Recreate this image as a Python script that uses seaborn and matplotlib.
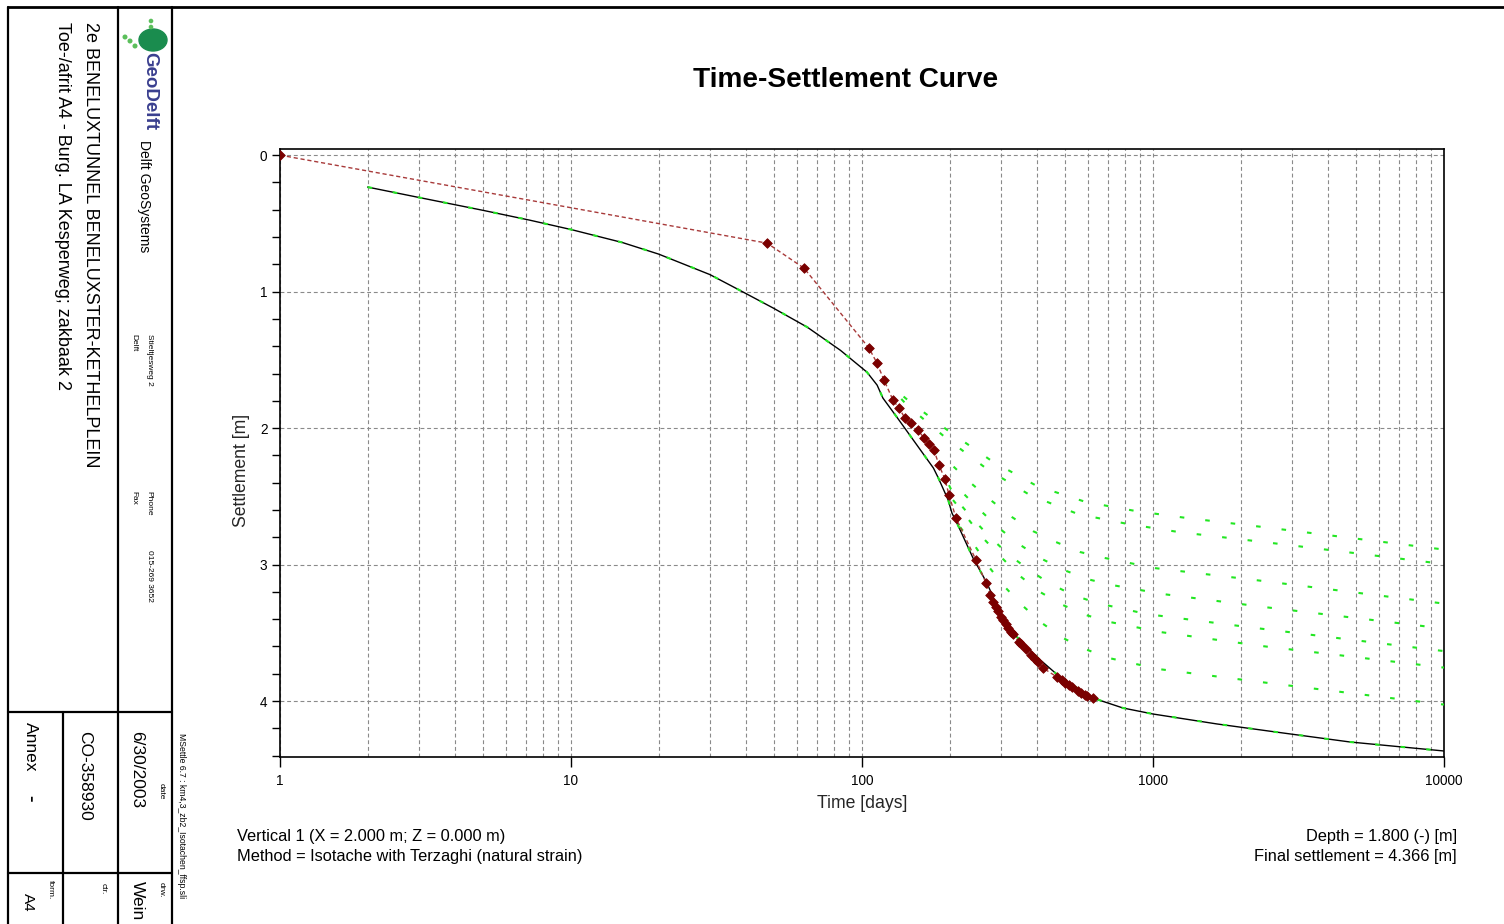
import matplotlib
matplotlib.use("Agg")
import matplotlib.pyplot as plt
import seaborn as sns
import pandas as pd
from matplotlib.ticker import LogLocator, MultipleLocator, FixedLocator, FixedFormatter, NullFormatter
from matplotlib.lines import Line2D
from matplotlib.patches import Ellipse

# ---------------- data ----------------
# measured settlements (red diamonds)
meas_t = [1, 47.2, 63.2, 105.7, 112.6, 119.0, 127.8, 134.0, 140.5, 147.3,
          155.7, 163.4, 169.9, 176.8, 183.9, 192.8, 199.1, 210.4, 246.5, 266.8,
          275.4, 281.9, 288.7, 293.4, 300.4, 305.2, 312.5, 317.5, 325.1, 330.3,
          346.4, 351.9, 366.1, 380.9, 393.1, 402.5, 418.8, 467.9, 486.8, 498.5,
          514.5, 526.8, 552.4, 565.7, 584.0, 593.3, 622.1]
meas_s = [0, 0.645, 0.828, 1.414, 1.524, 1.648, 1.795, 1.853, 1.927, 1.963,
          2.015, 2.073, 2.117, 2.161, 2.271, 2.374, 2.491, 2.659, 2.967, 3.136,
          3.223, 3.275, 3.311, 3.341, 3.385, 3.407, 3.436, 3.465, 3.495, 3.510,
          3.568, 3.582, 3.619, 3.663, 3.692, 3.714, 3.758, 3.824, 3.846, 3.868,
          3.883, 3.897, 3.927, 3.941, 3.956, 3.963, 3.978]

# calculated settlement (black curve)
calc_t = [2.0, 3.0, 5.0, 7.2, 10.0, 15.0, 20.0, 30.0, 38.0, 49.5, 64.8, 84.3, 104.0,
          112.7, 118.0, 131.8, 176.0, 183.0, 197.8, 203.8, 212.0, 240.7, 268.9, 298.0,
          340.9, 399.4, 479.0, 622.0, 788.6, 1000, 1660, 2797, 4753, 10000]
calc_s = [0.234, 0.31, 0.405, 0.476, 0.545, 0.64, 0.725, 0.875, 0.99, 1.12, 1.26,
          1.43, 1.59, 1.685, 1.78, 1.92, 2.293, 2.366, 2.527, 2.623, 2.696, 2.952,
          3.136, 3.355, 3.531, 3.678, 3.824, 3.978, 4.051, 4.095, 4.168, 4.234,
          4.300, 4.366]

# green branch curves
A_t = [119.0, 145.0, 200.6, 279.7, 399.4, 588.7, 874.2, 1309, 2388, 10000]
A_s = [1.648, 1.802, 2.029, 2.242, 2.425, 2.542, 2.608, 2.659, 2.725, 2.890]
B_t = [119.0, 142.8, 194.4, 268.9, 377.9, 552.4, 820.7, 1228.6, 2754, 10000]
B_s = [1.648, 1.832, 2.073, 2.300, 2.491, 2.630, 2.703, 2.762, 2.850, 2.996]
C_t = [176.8, 207.2, 238.8, 279.7, 327.7, 387.0, 464.2, 561.2, 684.1, 1016, 2259, 10000]
C_s = [2.161, 2.286, 2.410, 2.535, 2.652, 2.755, 2.835, 2.908, 2.952, 3.026, 3.114, 3.286]
D_t = [192.8, 222.4, 256.4, 295.7, 346.4, 409.0, 494.6, 593.3, 723.1, 1082, 2407, 10000]
D_s = [2.366, 2.476, 2.608, 2.733, 2.850, 2.952, 3.040, 3.106, 3.150, 3.216, 3.311, 3.469]
E_t = [199.1, 208.8, 238.8, 273.2, 317.5, 371.9, 439.2, 531.0, 642.1, 953.7, 2121, 10000]
E_s = [2.418, 2.513, 2.659, 2.791, 2.923, 3.033, 3.136, 3.223, 3.282, 3.363, 3.458, 3.634]
F_t = [205.5, 233.2, 262.6, 302.8, 349.1, 409.0, 490.7, 588.7, 711.6, 1065, 2369, 10000]
F_s = [2.527, 2.674, 2.813, 2.952, 3.084, 3.201, 3.297, 3.370, 3.421, 3.495, 3.597, 3.755]
G_t = [217.2, 244.5, 273.2, 310.0, 357.5, 415.6, 490.7, 584.0, 706.1, 1048.6, 2350, 10000]
G_s = [2.725, 2.864, 3.018, 3.165, 3.304, 3.429, 3.538, 3.619, 3.685, 3.766, 3.861, 4.026]

x_ticks = [1, 10, 100, 1000, 10000]
x_ticklabels = ["1", "10", "100", "1000", "10000"]
y_ticks = [0, 1, 2, 3, 4]

# ---------------- style ----------------
sns.set_theme(style="white")
plt.rcParams['font.family'] = ['Liberation Sans', 'DejaVu Sans']
plt.rcParams['axes.edgecolor'] = 'black'
plt.rcParams['text.color'] = 'black'

W, H = 1504, 924
fig = plt.figure(figsize=(W / 100, H / 100), dpi=100)
fig.patch.set_facecolor('white')

def fx(px):
    return px / W

def fy(py):
    return 1 - py / H

ax = fig.add_axes([fx(280), fy(757), fx(1444) - fx(280), fy(149) - fy(757)])
ax.set_xscale('log')
ax.set_facecolor('white')

# green family
rows = []
for name, ts, ss in [('A', A_t, A_s), ('B', B_t, B_s), ('C', C_t, C_s), ('D', D_t, D_s),
                     ('E', E_t, E_s), ('F', F_t, F_s), ('G', G_t, G_s), ('M', calc_t, calc_s)]:
    for t, s in zip(ts, ss):
        rows.append({'curve': name, 't': t, 's': s})
green_df = pd.DataFrame(rows)

calc_df = pd.DataFrame({'t': calc_t, 's': calc_s})
meas_df = pd.DataFrame({'t': meas_t, 's': meas_s})

sns.lineplot(data=calc_df, x='t', y='s', sort=False, estimator=None, color='black',
             lw=1.0, ax=ax, zorder=3, legend=False)
sns.lineplot(data=green_df, x='t', y='s', units='curve', sort=False, estimator=None,
             color='#22e622', lw=1.5, linestyle=(0, (2.2, 10.1)), ax=ax, zorder=4, legend=False)
sns.lineplot(data=meas_df, x='t', y='s', sort=False, estimator=None, color='#a83a3a',
             lw=1.0, linestyle=(0, (3.0, 2.0)), ax=ax, zorder=5, legend=False)
sns.scatterplot(data=meas_df, x='t', y='s', marker='D', s=24, color='#7a0000',
                edgecolor='#7a0000', linewidth=0.6, ax=ax, zorder=6, legend=False)

ax.set_xlim(1, 10000)
ax.set_ylim(4.41, -0.045)

ax.xaxis.set_major_locator(FixedLocator(x_ticks))
ax.xaxis.set_major_formatter(FixedFormatter(x_ticklabels))
ax.xaxis.set_minor_locator(LogLocator(base=10, subs=range(2, 10), numticks=20))
ax.xaxis.set_minor_formatter(NullFormatter())
ax.yaxis.set_major_locator(FixedLocator(y_ticks))
ax.yaxis.set_minor_locator(MultipleLocator(0.2))

gridkw = dict(color='#8a8a8a', lw=0.8, linestyle=(0, (3.5, 2.5)))
ax.grid(True, which='major', axis='both', **gridkw)
ax.grid(True, which='minor', axis='x', **gridkw)
ax.set_axisbelow(True)

ax.tick_params(axis='y', which='both', direction='out', length=6, width=1,
               left=True, colors='black', labelsize=9.8, pad=3)
ax.tick_params(axis='x', which='major', direction='out', length=7, width=1,
               bottom=True, colors='black', labelsize=9.8, pad=5)
ax.tick_params(axis='x', which='minor', length=0)

for sp in ax.spines.values():
    sp.set_color('black')
    sp.set_linewidth(1.2)

ax.set_xlabel('Time [days]', fontsize=12.7, labelpad=5)
ax.set_ylabel('Settlement [m]', fontsize=12.7)
ax.yaxis.set_label_coords((250 - 280) / (1444 - 280), 1 - (470 - 149) / (757 - 149))

# title & annotations
fig.text(fx(846), fy(80), 'Time-Settlement Curve', fontsize=20.2, fontweight='bold',
         ha='center', va='center')
fig.text(fx(237), fy(836), 'Vertical 1 (X = 2.000 m; Z = 0.000 m)', fontsize=11.8,
         ha='left', va='center')
fig.text(fx(237), fy(856), 'Method = Isotache with Terzaghi (natural strain)', fontsize=11.8,
         ha='left', va='center')
fig.text(fx(1457), fy(836), 'Depth = 1.800 (-) [m]', fontsize=11.8, ha='right', va='center')
fig.text(fx(1457), fy(856), 'Final settlement = 4.366 [m]', fontsize=11.8, ha='right', va='center')

# ---------------- title block (left) ----------------
def hline(y, x0, x1, lw=1.6):
    fig.add_artist(Line2D([fx(x0), fx(x1)], [fy(y), fy(y)], color='black', lw=lw,
                          transform=fig.transFigure))

def vline(x, y0, y1, lw=1.6):
    fig.add_artist(Line2D([fx(x), fx(x)], [fy(y0), fy(y1)], color='black', lw=lw,
                          transform=fig.transFigure))

hline(7, 8, 1504, lw=2.0)
vline(8, 7, 924)
vline(118, 7, 924)
vline(172, 7, 924)
vline(63, 712, 924)
hline(712, 8, 172)
hline(873, 8, 172)

def rtext(x, y, s, size, **kw):
    fig.text(fx(x), fy(y), s, fontsize=size, rotation=-90, ha='center', va='top', **kw)

rtext(90, 22, '2e BENELUXTUNNEL BENELUXSTER-KETHELPLEIN', 13)
rtext(62, 22, 'Toe-/afrit A4 - Burg. LA Kesperweg; zakbaak 2', 13)
rtext(150, 52, 'GeoDelft', 13.5, fontweight='bold', color='#3a3f8f')
rtext(144, 140, 'Delft GeoSystems', 10)
rtext(149, 334, 'Stieltjesweg 2', 6)
rtext(134, 334, 'Delft', 6)
rtext(149, 491, 'Phone', 6)
rtext(134, 491, 'Fax', 6)
rtext(149, 550, '015-269 3652', 6)
rtext(181, 733, 'MSettle 6.7 : km4,3_zb2_Isotachen_ffsp.sli', 6.2)
rtext(161, 783, 'date', 6)
rtext(137, 731, '6/30/2003', 12.5)
rtext(85, 731, 'CO-358930', 12.5)
rtext(30, 722, 'Annex', 12.5)
rtext(30, 795, '-', 14, fontweight='bold')
rtext(161, 882, 'drw.', 6)
rtext(137, 881, 'Wein', 12.5)
rtext(103, 883, 'ctr.', 6)
rtext(50, 880, 'form.', 6)
rtext(28, 893, 'A4', 11)

# logo shape
logo_green = '#1a8c4e'
fig.add_artist(Ellipse((fx(153), fy(40)), width=fx(28), height=22 / H, color=logo_green,
                       transform=fig.transFigure))
for (px, py, r) in [(151, 21, 1.6), (151, 27, 1.6), (125, 37, 1.8), (130, 41, 1.8), (135, 46, 1.8)]:
    fig.add_artist(Ellipse((fx(px), fy(py)), width=fx(2 * r), height=2 * r / H,
                           color='#5bbf5b', transform=fig.transFigure))

fig.savefig('out.png', dpi=100, facecolor='white')
